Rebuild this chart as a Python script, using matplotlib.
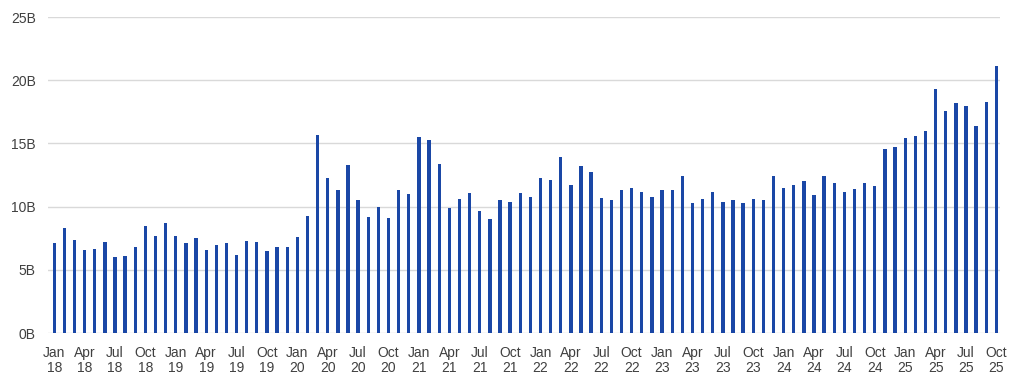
import numpy as np
import matplotlib
matplotlib.use("Agg")
import matplotlib.pyplot as plt

# monthly values in billions, Jan 2018 .. Oct 2025
values = [
    7.1, 8.3, 7.4, 6.6, 6.65, 7.25, 6.05, 6.1, 6.85, 8.5, 7.7, 8.75,   # 2018
    7.7, 7.15, 7.5, 6.6, 7.0, 7.1, 6.2, 7.3, 7.2, 6.5, 6.8, 6.8,       # 2019
    7.6, 9.25, 15.65, 12.3, 11.3, 13.3, 10.5, 9.2, 10.0, 9.1, 11.3, 11.0,  # 2020
    15.55, 15.3, 13.35, 9.9, 10.6, 11.1, 9.7, 9.0, 10.55, 10.4, 11.1, 10.8,  # 2021
    12.3, 12.15, 13.9, 11.75, 13.2, 12.75, 10.7, 10.55, 11.35, 11.45, 11.2, 10.75,  # 2022
    11.3, 11.35, 12.45, 10.3, 10.6, 11.2, 10.4, 10.5, 10.3, 10.6, 10.5, 12.4,  # 2023
    11.5, 11.7, 12.0, 10.9, 12.45, 11.85, 11.15, 11.4, 11.85, 11.65, 14.55, 14.7,  # 2024
    15.45, 15.6, 15.95, 19.3, 17.6, 18.2, 18.0, 16.4, 18.3, 21.15,  # 2025
]
month_names = ["Jan", "Apr", "Jul", "Oct"]
yticks = [0, 5, 10, 15, 20, 25]

plt.rcParams["font.family"] = ["Liberation Sans", "DejaVu Sans"]

x = np.arange(len(values))
tick_pos = x[::3]
tick_labels = ["{}\n{:02d}".format(month_names[(i // 3) % 4], 18 + i // 12) for i in tick_pos]

fig = plt.figure(figsize=(10.24, 3.87), dpi=100)
ax = fig.add_axes([0.047, 0.139, 0.930, 0.817])

ax.bar(x, values, width=0.33, color="#1a47a6", zorder=3)

ax.set_xlim(-0.6, len(values) - 0.6)
ax.set_ylim(0, 25)
ax.set_yticks(yticks)
ax.set_yticklabels(["{}B".format(v) for v in yticks])
ax.set_xticks(tick_pos)
ax.set_xticklabels(tick_labels, linespacing=1.15)

ax.grid(axis="y", color="#d9d9d9", linewidth=1.0, zorder=0)
for s in ax.spines.values():
    s.set_visible(False)
ax.tick_params(axis="both", length=0, labelsize=10, colors="#404040")
ax.tick_params(axis="y", pad=9)
ax.tick_params(axis="x", pad=9)

fig.savefig("out.png", dpi=100)
